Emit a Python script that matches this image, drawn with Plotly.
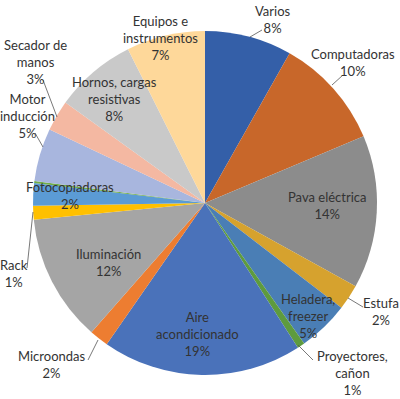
import plotly.graph_objects as go

categories = ["Varios", "Computadoras", "Pava eléctrica", "Estufa", "Heladera, freezer",
              "Proyectores, cañon", "Aire acondicionado", "Microondas", "Iluminación", "Rack",
              "Fotocopiadoras", "Otros", "Motor inducción", "Secador de manos",
              "Hornos, cargas resistivas", "Equipos e instrumentos"]
values = [8.2, 10.5, 14.4, 2.4, 4.8, 0.7, 18.8, 1.8, 12.0, 1.3, 2.1, 0.2, 5.0, 2.9, 7.7, 7.4]
pct_labels = ["8%", "10%", "14%", "2%", "5%", "1%", "19%", "2%", "12%", "1%", "2%", "",
              "5%", "3%", "8%", "7%"]
label_text = ["Varios", "Computadoras", "Pava eléctrica", "Estufa", "Heladera,<br>freezer",
              "Proyectores,<br>cañon", "Aire<br>acondicionado", "Microondas", "Iluminación", "Rack",
              "Fotocopiadoras", "", "Motor<br>inducción", "Secador de<br>manos",
              "Hornos, cargas<br>resistivas", "Equipos e<br>instrumentos"]
colors = ["#345FA8", "#C8672A", "#8C8C8C", "#D6A22E", "#4A7EB5", "#5E9B3E", "#4A72BA",
          "#ED7D31", "#A5A5A5", "#FFC000", "#5B9BD5", "#70AD47", "#A8B6DE", "#F4B8A2",
          "#C9C9C9", "#FED89A"]

W, H = 400, 399
cx, cy, r = 205, 203, 172

# label positions (pixels) and optional leader lines
label_pos = [(273, 19), (353, 62), (327, 205), (381, 311), (308, 316), (352, 373),
             (197, 334), (52, 364), (108, 262), (14, 273), (70, 195), None,
             (27, 116), (35, 62), (115, 99), (160, 38)]
leaders = [((250, 37), (262, 30)), ((332, 85), (343, 75)), None, ((348, 298), (363, 307)),
           None, ((298, 345), (313, 360)), None, ((98, 340), (88, 360)), None,
           ((33, 212), (27, 268)), None, None, ((35, 133), (43, 147)), ((43, 80), (57, 117)),
           None, None]

fig = go.Figure(go.Pie(
    labels=categories, values=values, sort=False, direction="clockwise", rotation=0,
    marker=dict(colors=colors, line=dict(width=0)), textinfo="none", hoverinfo="label+percent",
    domain=dict(x=[(cx - r) / W, (cx + r) / W], y=[(H - cy - r) / H, (H - cy + r) / H]),
    showlegend=False,
))

px = lambda x: x / W
py = lambda y: 1 - y / H
annotations = []
for t, p, pos in zip(label_text, pct_labels, label_pos):
    if pos is None:
        continue
    annotations.append(dict(x=px(pos[0]), y=py(pos[1]), xref="paper", yref="paper",
                            text=f"{t}<br>{p}", showarrow=False, xanchor="center", yanchor="middle",
                            font=dict(family="Lato", size=13, color="#333333")))
shapes = []
for ld in leaders:
    if ld is None:
        continue
    (x0, y0), (x1, y1) = ld
    shapes.append(dict(type="line", xref="paper", yref="paper", x0=px(x0), y0=py(y0),
                       x1=px(x1), y1=py(y1), line=dict(color="#555555", width=0.8)))

fig.update_layout(width=W, height=H, margin=dict(l=0, r=0, t=0, b=0),
                  paper_bgcolor="white", plot_bgcolor="white",
                  annotations=annotations, shapes=shapes)
fig.write_html("out.html", config={"displayModeBar": False},
               post_script="document.body.style.margin='0';document.body.style.overflow='hidden';")
